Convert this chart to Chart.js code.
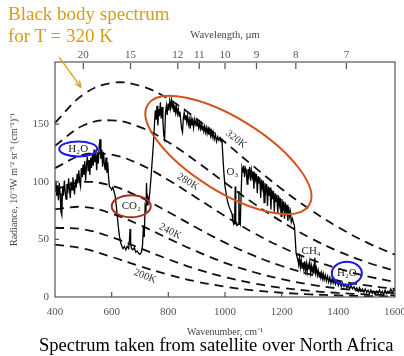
<!DOCTYPE html>
<html lang="en">
<head>
<meta charset="UTF-8">
<title>Spectrum taken from satellite over North Africa</title>
<style>
html, body { margin: 0; padding: 0; background: #fff; overflow: hidden; }
#wrap { position: relative; width: 404px; height: 356px; }
canvas { display: block; }
.note { position: absolute; font-family: 'Liberation Serif', 'Times New Roman', serif; white-space: nowrap; }
#bb { left: 8px; top: 3px; font-size: 19px; line-height: 22px; color: #d4a017; }
#caption { left: 39px; top: 336px; font-size: 18.5px; line-height: 1; color: #000; }
</style>
</head>
<body>
<div id="wrap">
  <canvas id="myChart" width="404" height="356"></canvas>
  <div class="note" id="bb">Black body spectrum<br>for T = 320 K</div>
  <div class="note" id="caption">Spectrum taken from satellite over North Africa</div>
</div>

<script src="https://cdn.jsdelivr.net/npm/chart.js"></script>
<script>
const serif = "'Liberation Serif', 'Times New Roman', serif";

// black body curves, read every 100 cm-1
const bbWavenumber = [400, 500, 600, 700, 800, 900, 1000, 1100, 1200, 1300, 1400, 1500, 1600];
const bb320 = [151.2, 175.8, 185.8, 183.4, 171.9, 154.5, 134.3, 113.6, 93.8, 76.0, 60.5, 47.4, 36.7];
const bb300 = [131.2, 148.9, 153.4, 147.5, 134.4, 117.5, 99.2, 81.5, 65.4, 51.4, 39.7, 30.2, 22.7];
const bb280 = [111.9, 123.5, 123.5, 115.1, 101.6, 86.0, 70.3, 55.8, 43.3, 32.9, 24.6, 18.1, 13.1];
const bb260 = [93.6, 99.9, 96.5, 86.7, 73.8, 60.1, 47.2, 36.1, 26.9, 19.7, 14.1, 10.0, 7.0];
const bb240 = [76.2, 78.2, 72.5, 62.4, 50.8, 39.6, 29.7, 21.7, 15.5, 10.8, 7.4, 5.0, 3.3];
const bb220 = [60.1, 58.8, 51.9, 42.4, 32.8, 24.2, 17.2, 11.9, 8.0, 5.3, 3.5, 2.2, 1.4];
const bb200 = [45.5, 42.0, 34.8, 26.7, 19.4, 13.4, 9.0, 5.8, 3.7, 2.3, 1.4, 0.8, 0.5];

// measured spectrum
const specWavenumber = [
  400, 403, 406, 409, 412, 415, 418, 421, 424, 427,
  430, 433, 436, 439, 442, 445, 448, 451, 454, 457,
  460, 463, 466, 469, 472, 475, 478, 481, 484, 487,
  490, 493, 496, 499, 502, 505, 508, 511, 514, 517,
  520, 523, 526, 529, 532, 535, 538, 541, 544, 547,
  550, 553, 556, 559, 562, 565, 568, 571, 574, 577,
  580, 583, 586, 589, 592, 596, 600, 604, 608, 612,
  616, 620, 624, 628, 632, 636, 640, 645, 650, 655,
  660, 663, 665, 667, 670, 675, 680, 685, 690, 695,
  700, 705, 709, 712, 715, 718, 721, 723, 725, 728,
  731, 735, 739, 743, 747, 751, 754, 757, 760, 763,
  766, 769, 772, 775, 778, 781, 784, 787, 790, 793,
  796, 799, 802, 805, 808, 811, 814, 817, 820, 823,
  826, 829, 832, 835, 838, 841, 844, 847, 850, 853,
  856, 859, 862, 865, 868, 871, 874, 877, 880, 883,
  886, 889, 892, 895, 898, 901, 904, 907, 910, 913,
  916, 919, 922, 925, 928, 931, 934, 937, 940, 943,
  946, 949, 952, 955, 958, 962, 966, 970, 974, 978,
  982, 986, 989, 992, 996, 1000, 1005, 1010, 1015, 1020,
  1025, 1028, 1031, 1034, 1036, 1038, 1042, 1046, 1049, 1051,
  1054, 1057, 1060, 1063, 1066, 1069, 1072, 1075, 1078, 1081,
  1084, 1087, 1090, 1093, 1096, 1099, 1102, 1105, 1108, 1111,
  1114, 1117, 1120, 1123, 1126, 1129, 1132, 1135, 1138, 1141,
  1144, 1147, 1150, 1153, 1156, 1159, 1162, 1165, 1168, 1171,
  1174, 1177, 1180, 1183, 1186, 1189, 1192, 1195, 1198, 1201,
  1204, 1207, 1210, 1213, 1216, 1219, 1222, 1225, 1228, 1231,
  1234, 1238, 1242, 1245, 1248, 1251, 1254, 1257, 1260, 1263,
  1266, 1269, 1272, 1275, 1278, 1281, 1284, 1287, 1290, 1293,
  1296, 1299, 1302, 1305, 1308, 1311, 1314, 1317, 1320, 1323,
  1326, 1329, 1332, 1335, 1338, 1341, 1344, 1347, 1350, 1354,
  1358, 1362, 1366, 1370, 1374, 1378, 1382, 1386, 1390, 1395,
  1400, 1405, 1410, 1415, 1420, 1425, 1430, 1435, 1440, 1445,
  1450, 1455, 1460, 1465, 1470, 1475, 1480, 1485, 1490, 1495,
  1500, 1505, 1510, 1515, 1520, 1525, 1530, 1535, 1540, 1545,
  1550, 1555, 1560, 1565, 1570, 1575, 1580, 1585, 1590, 1595,
  1600
];
const specRadiance = [
  92, 101, 88, 97, 84, 99, 90, 74, 71, 95,
  88, 101, 92, 85, 98, 90, 103, 94, 86, 100,
  93, 104, 96, 89, 102, 95, 107, 99, 110, 100,
  96, 112, 104, 115, 106, 118, 101, 114, 122, 109,
  119, 106, 121, 112, 124, 114, 128, 117, 126, 110,
  124, 116, 131, 137, 120, 128, 113, 126, 116, 110,
  121, 108, 117, 104, 96, 95, 93, 95, 92, 88,
  80, 70, 60, 52, 47, 44, 42, 44, 41, 44,
  42, 50, 59, 46, 42, 41, 43, 39, 40, 38,
  37, 39, 45, 62, 52, 78, 74, 99, 80, 86,
  83, 92, 104, 118, 132, 150, 162, 154, 166, 149,
  163, 157, 169, 155, 165, 152, 140, 137, 160, 166,
  158, 168, 162, 170, 164, 171, 165, 168, 161, 167,
  160, 165, 159, 163, 157, 161, 153, 146, 143, 155,
  160, 154, 158, 152, 157, 150, 154, 146, 155, 149,
  153, 147, 154, 150, 153, 148, 152, 147, 151, 146,
  150, 145, 149, 144, 148, 143, 147, 142, 146, 141,
  145, 140, 144, 139, 143, 137, 141, 135, 139, 136,
  138, 135, 137, 124, 108, 96, 88, 82, 78, 75,
  72, 66, 63, 64, 96, 64, 62, 63, 92, 65,
  63, 90, 112, 108, 114, 104, 112, 110, 98, 111,
  106, 113, 101, 110, 104, 109, 94, 108, 102, 107,
  90, 105, 99, 104, 86, 102, 95, 101, 82, 99,
  92, 98, 79, 96, 88, 95, 76, 93, 85, 92,
  74, 90, 83, 89, 72, 88, 80, 86, 70, 85,
  77, 83, 68, 82, 74, 80, 66, 78, 70, 74,
  65, 68, 64, 62, 50, 38, 35, 33, 28, 34,
  26, 32, 25, 30, 24, 31, 23, 29, 22, 28,
  24, 30, 21, 27, 22, 26, 20, 34, 21, 25,
  19, 23, 18, 22, 17, 21, 16, 20, 15, 19,
  14, 18, 13, 17, 12, 16, 12, 15, 11, 14,
  10, 13, 9, 12, 9, 11, 8, 10, 7, 10,
  7, 9, 6, 8, 5, 8, 5, 7, 4, 7,
  4, 6, 3, 6, 3, 5, 2, 5, 3, 6,
  3, 5, 2, 6, 3, 5, 4, 7, 4, 6,
  5
];

const xTickValues = [400, 600, 800, 1000, 1200, 1400, 1600];
const yTickValues = [0, 50, 100, 150];
const wavelengthTicks = [20, 15, 12, 11, 10, 9, 8, 7];

// annotations (wavenumber, radiance)
const curveLabels = [['320K', 1039, 137, 38], ['280K', 869, 100, 32], ['240K', 806, 57, 27], ['200K', 718, 18, 22]];
const gasLabels = [['H\u2082O', 482, 128.5], ['CO\u2082', 669, 78.8], ['O\u2083', 1026, 108], ['CH\u2084', 1304, 40], ['H\u2082O', 1430, 20.6]];
const rings = [
  { nu: 482, r: 128.5, rx: 19, ry: 7.5, rot: 0, color: '#1a1aee' },
  { nu: 669, r: 78.8, rx: 19.5, ry: 11, rot: 0, color: '#a3301f' },
  { nu: 1012, r: 123.3, rx: 95, ry: 36.6, rot: 31.9, color: '#d4521e' },
  { nu: 1430, r: 20.6, rx: 15, ry: 11.5, rot: 0, color: '#1a1aee' }
];
const arrowFrom = [415, 208];
const arrowTo = [492, 182];

function pairs(xs, ys) {
  return xs.map((v, i) => ({ x: v, y: ys[i] }));
}

function bbSet(values) {
  return {
    data: pairs(bbWavenumber, values),
    borderColor: '#111',
    borderWidth: 1.8,
    borderDash: [9, 6],
    pointRadius: 0,
    tension: 0.4,
    fill: false
  };
}

const decor = {
  id: 'decor',
  afterDatasetsDraw(chart) {
    const { ctx, chartArea: a, scales } = chart;
    const x = scales.x, y = scales.y, x2 = scales.x2;
    ctx.save();

    // frame and inner ticks
    ctx.strokeStyle = '#555';
    ctx.lineWidth = 1.2;
    ctx.strokeRect(a.left, a.top, a.right - a.left, a.bottom - a.top);
    ctx.beginPath();
    xTickValues.slice(1, -1).forEach(v => {
      const px = x.getPixelForValue(v);
      ctx.moveTo(px, a.bottom);
      ctx.lineTo(px, a.bottom - 5);
    });
    yTickValues.slice(1).forEach(v => {
      const py = y.getPixelForValue(v);
      ctx.moveTo(a.left, py);
      ctx.lineTo(a.left + 4, py);
    });
    wavelengthTicks.forEach(l => {
      const px = x2.getPixelForValue(10000 / l);
      ctx.moveTo(px, a.top + 1);
      ctx.lineTo(px, a.top + 7);
    });
    ctx.stroke();

    // temperature labels along the curves
    ctx.fillStyle = '#333';
    ctx.font = '10.5px ' + serif;
    ctx.textAlign = 'center';
    ctx.textBaseline = 'middle';
    curveLabels.forEach(([t, nu, r, ang]) => {
      ctx.save();
      ctx.translate(x.getPixelForValue(nu), y.getPixelForValue(r));
      ctx.rotate(ang * Math.PI / 180);
      ctx.fillText(t, 0, 0);
      ctx.restore();
    });

    // gas names
    ctx.fillStyle = '#222';
    ctx.font = '11px ' + serif;
    gasLabels.forEach(([t, nu, r]) => {
      ctx.fillText(t, x.getPixelForValue(nu), y.getPixelForValue(r));
    });

    // rings
    ctx.lineWidth = 2;
    rings.forEach(e => {
      ctx.beginPath();
      ctx.ellipse(x.getPixelForValue(e.nu), y.getPixelForValue(e.r), e.rx, e.ry, e.rot * Math.PI / 180, 0, 2 * Math.PI);
      ctx.strokeStyle = e.color;
      ctx.stroke();
    });

    // arrow from the note
    const x0 = x.getPixelForValue(arrowFrom[0]), y0 = y.getPixelForValue(arrowFrom[1]);
    const x1 = x.getPixelForValue(arrowTo[0]), y1 = y.getPixelForValue(arrowTo[1]);
    const ang = Math.atan2(y1 - y0, x1 - x0);
    ctx.strokeStyle = '#d4a017';
    ctx.lineWidth = 1.3;
    ctx.beginPath();
    ctx.moveTo(x0, y0);
    ctx.lineTo(x1, y1);
    ctx.moveTo(x1, y1);
    ctx.lineTo(x1 - 7 * Math.cos(ang - 0.4), y1 - 7 * Math.sin(ang - 0.4));
    ctx.moveTo(x1, y1);
    ctx.lineTo(x1 - 7 * Math.cos(ang + 0.4), y1 - 7 * Math.sin(ang + 0.4));
    ctx.stroke();

    ctx.restore();
  }
};

const ctx = document.getElementById('myChart');

new Chart(ctx, {
  type: 'line',
  data: {
    datasets: [
      {
        data: pairs(specWavenumber, specRadiance),
        borderColor: '#000',
        borderWidth: 1.3,
        pointRadius: 0,
        tension: 0,
        fill: false
      },
      bbSet(bb320), bbSet(bb300), bbSet(bb280), bbSet(bb260),
      bbSet(bb240), bbSet(bb220), bbSet(bb200)
    ]
  },
  options: {
    responsive: false,
    animation: false,
    devicePixelRatio: 1,
    layout: { padding: { left: 0, right: 9, top: 0, bottom: 0 } },
    plugins: { legend: { display: false }, tooltip: { enabled: false } },
    scales: {
      x: {
        type: 'linear',
        position: 'bottom',
        min: 400,
        max: 1600,
        afterBuildTicks: s => { s.ticks = xTickValues.map(v => ({ value: v })); },
        afterFit: s => { s.height = 59; s.paddingLeft = 0; s.paddingRight = 0; },
        grid: { display: false, drawTicks: false },
        border: { display: false },
        ticks: {
          callback: v => String(v),
          font: { family: serif, size: 11 },
          color: '#555',
          padding: 9,
          maxRotation: 0,
          autoSkip: false
        },
        title: {
          display: true,
          text: 'Wavenumber, cm\u207B\u00B9',
          font: { family: serif, size: 10 },
          color: '#444',
          padding: { top: 0, bottom: 18 }
        }
      },
      x2: {
        type: 'linear',
        position: 'top',
        min: 400,
        max: 1600,
        afterBuildTicks: s => { s.ticks = wavelengthTicks.map(l => ({ value: 10000 / l })); },
        afterFit: s => { s.height = 62; s.paddingLeft = 0; s.paddingRight = 0; },
        grid: { display: false, drawTicks: false },
        border: { display: false },
        ticks: {
          callback: (v, i) => String(wavelengthTicks[i]),
          font: { family: serif, size: 11 },
          color: '#555',
          padding: 0,
          maxRotation: 0,
          autoSkip: false
        },
        title: {
          display: true,
          text: 'Wavelength, \u00B5m',
          font: { family: serif, size: 10.5 },
          color: '#444',
          padding: { top: 29, bottom: 0 }
        }
      },
      y: {
        type: 'linear',
        min: 0,
        max: 204,
        afterBuildTicks: s => { s.ticks = yTickValues.map(v => ({ value: v })); },
        afterFit: s => { s.width = 55; },
        grid: { display: false, drawTicks: false },
        border: { display: false },
        ticks: {
          callback: v => String(v),
          font: { family: serif, size: 11 },
          color: '#555',
          padding: 6,
          autoSkip: false
        },
        title: {
          display: true,
          text: 'Radiance, 10\u207B\u00B3W m\u207B\u00B2 sr\u207B\u00B9 (cm\u207B\u00B9)\u207B\u00B9',
          font: { family: serif, size: 10 },
          color: '#444',
          padding: { top: 8, bottom: 0 }
        }
      }
    }
  },
  plugins: [decor]
});
</script>
</body>
</html>
